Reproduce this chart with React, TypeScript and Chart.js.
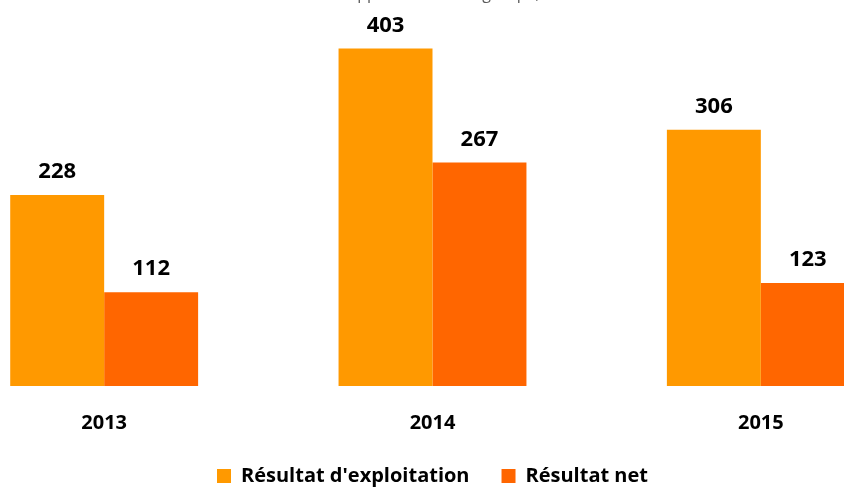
import React, { useEffect, useRef } from "react";
import { Chart, registerables } from "chart.js";

Chart.register(...registerables);

const categories = ["2013", "2014", "2015"];
const seriesNames = ["Résultat d'exploitation", "Résultat net"];
const resultatExploitation = [228, 403, 306];
const resultatNet = [112, 267, 123];
const seriesColors = ["#FF9900", "#FF6600"];
const titleText = "Source : Rapport annuel du groupe, en M€";

const FONT = "'Open Sans', 'Noto Sans', sans-serif";

const valueLabels = {
  id: "valueLabels",
  afterDatasetsDraw(chart: any) {
    const ctx = chart.ctx;
    ctx.save();
    ctx.font = `bold 22px ${FONT}`;
    ctx.fillStyle = "#000000";
    ctx.textAlign = "center";
    ctx.textBaseline = "bottom";
    chart.data.datasets.forEach((ds: any, i: number) => {
      const meta = chart.getDatasetMeta(i);
      meta.data.forEach((bar: any, j: number) => {
        ctx.fillText(String(ds.data[j]), bar.x, bar.y - 12);
      });
    });
    ctx.restore();
  },
};

export default function App() {
  const ref = useRef<HTMLCanvasElement | null>(null);
  useEffect(() => {
    if (!ref.current) return;
    const chart = new Chart(ref.current, {
      type: "bar",
      data: {
        labels: categories,
        datasets: [
          {
            label: seriesNames[0],
            data: resultatExploitation,
            backgroundColor: seriesColors[0],
            categoryPercentage: 0.5723,
            barPercentage: 1,
          },
          {
            label: seriesNames[1],
            data: resultatNet,
            backgroundColor: seriesColors[1],
            categoryPercentage: 0.5723,
            barPercentage: 1,
          },
        ],
      },
      options: {
        animation: false,
        responsive: false,
        maintainAspectRatio: false,
        layout: { padding: { left: 0, right: 0, top: 0, bottom: 0 } },
        plugins: {
          title: {
            display: true,
            text: titleText,
            color: "#595959",
            font: { family: FONT, size: 16, weight: "normal" },
            padding: { top: 0, bottom: 10 },
          },
          legend: {
            position: "bottom",
            labels: {
              color: "#000000",
              font: { family: FONT, size: 20, weight: "bold" },
              boxWidth: 14,
              boxHeight: 14,
              padding: 32,
            },
          },
          tooltip: { enabled: false },
        },
        scales: {
          x: {
            grid: { display: false },
            border: { display: false },
            ticks: {
              color: "#000000",
              font: { family: FONT, size: 20, weight: "bold" },
              padding: 17,
            },
            afterFit(scale: any) {
              scale.height -= 18;
            },
          },
          y: {
            display: false,
            min: 0,
            max: 444,
          },
        },
      },
      plugins: [valueLabels],
    });
    return () => chart.destroy();
  }, []);
  return (
    <div
      style={{
        position: "fixed",
        left: 0,
        top: 0,
        width: 844,
        height: 488,
        overflow: "hidden",
        background: "#ffffff",
      }}
    >
      <canvas
        ref={ref}
        width={985}
        height={511}
        style={{ position: "absolute", left: -60, top: -15, width: 985, height: 511 }}
      />
    </div>
  );
}
